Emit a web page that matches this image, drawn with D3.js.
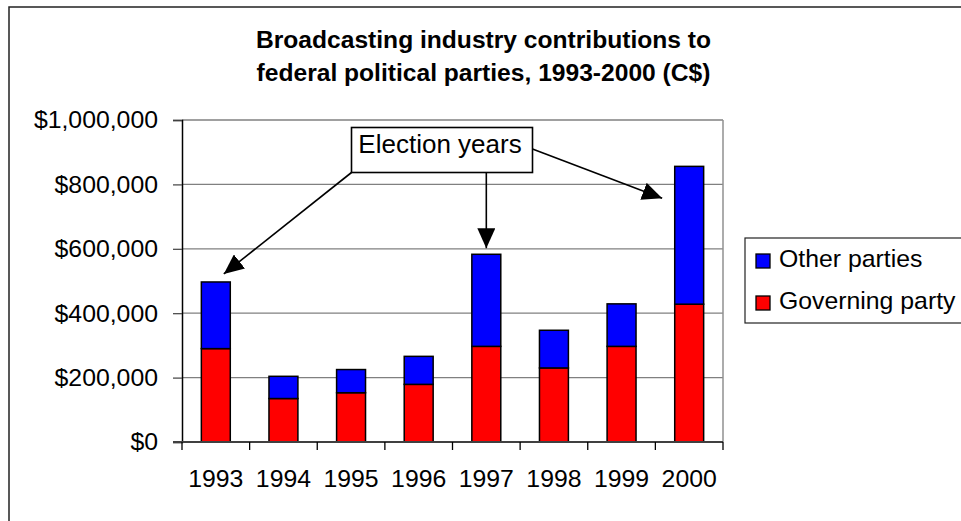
<!DOCTYPE html>
<html>
<head>
<meta charset="utf-8">
<script src="https://cdn.jsdelivr.net/npm/d3@7"></script>
<style>
  html, body { margin: 0; padding: 0; background: #fff; }
  svg { display: block; font-family: "Liberation Sans", Arial, sans-serif; }
</style>
</head>
<body>
<svg id="chart" width="961" height="521"></svg>
<script>
// ---- data ----
const years = ["1993", "1994", "1995", "1996", "1997", "1998", "1999", "2000"];
const governingParty = [290000, 135000, 153000, 179000, 297000, 230000, 297000, 428000];
const otherParties = [207000, 69000, 72000, 87000, 286000, 117000, 132000, 428000];
const yTicks = [0, 200000, 400000, 600000, 800000, 1000000];
const seriesNames = ["Governing party", "Other parties"];
const seriesColors = ["#ff0000", "#0000ff"];
const titleLines = ["Broadcasting industry contributions to", "federal political parties, 1993-2000 (C$)"];
const annotationText = "Election years";

// ---- layout ----
const svg = d3.select("#chart");
const plot = { left: 182, right: 723, top: 120, bottom: 442 };
const labelSize = 24.8;

// outer frame
svg.append("rect")
  .attr("x", 9).attr("y", 7).attr("width", 980).attr("height", 540)
  .attr("fill", "none").attr("stroke", "#222").attr("stroke-width", 1.5);

// title
svg.append("g").selectAll("text").data(titleLines).join("text")
  .attr("x", 483.5).attr("y", (d, i) => 48 + i * 33)
  .attr("text-anchor", "middle")
  .attr("font-weight", "bold").attr("font-size", 24.6)
  .attr("fill", "#000")
  .text(d => d);

const x = d3.scaleBand().domain(years)
  .range([plot.left, plot.right]).paddingInner(0.572).paddingOuter(0.286);
const y = d3.scaleLinear().domain([0, 1000000]).range([plot.bottom, plot.top]);
const step = x.step();

// gridlines
svg.append("g").selectAll("line").data(yTicks.filter(d => d > 0)).join("line")
  .attr("x1", plot.left).attr("x2", plot.right)
  .attr("y1", d => y(d)).attr("y2", d => y(d))
  .attr("stroke", "#808080").attr("stroke-width", 1.3);

// right border of plot
svg.append("line")
  .attr("x1", plot.right).attr("x2", plot.right)
  .attr("y1", plot.top).attr("y2", plot.bottom)
  .attr("stroke", "#909090").attr("stroke-width", 1.5);

// y axis
const fmt = d => "$" + d3.format(",")(d);
const yAxis = svg.append("g")
  .attr("transform", `translate(${plot.left},0)`)
  .call(d3.axisLeft(y).tickValues(yTicks).tickFormat(fmt).tickSize(9).tickPadding(15));
yAxis.select(".domain").attr("stroke", "#000").attr("stroke-width", 1.5);
yAxis.selectAll(".tick line").attr("stroke", "#404040").attr("stroke-width", 1.2);
yAxis.selectAll("text")
  .attr("font-size", labelSize).attr("fill", "#000")
  .attr("font-family", "Liberation Sans, Arial, sans-serif");

// stacked bars
const rows = years.map((yr, i) => ({ year: yr, "Governing party": governingParty[i], "Other parties": otherParties[i] }));
const stacked = d3.stack().keys(seriesNames)(rows);
svg.append("g").selectAll("g").data(stacked).join("g")
  .attr("fill", (d, i) => seriesColors[i])
  .selectAll("rect").data(d => d).join("rect")
  .attr("x", d => x(d.data.year))
  .attr("width", x.bandwidth())
  .attr("y", d => y(d[1]))
  .attr("height", d => y(d[0]) - y(d[1]))
  .attr("stroke", "#000").attr("stroke-width", 1.5);

// x axis
const xAxisG = svg.append("g").attr("transform", `translate(0,${plot.bottom})`);
xAxisG.append("line")
  .attr("x1", plot.left - 9).attr("x2", plot.right)
  .attr("stroke", "#404040").attr("stroke-width", 1.8);
const boundaries = d3.range(years.length + 1).map(i => x(years[0]) + x.bandwidth() / 2 - step / 2 + i * step);
xAxisG.selectAll("line.tk").data(boundaries).join("line").attr("class", "tk")
  .attr("x1", d => d).attr("x2", d => d).attr("y1", 0).attr("y2", 8)
  .attr("stroke", "#000").attr("stroke-width", 1.3);
const xAxis = svg.append("g")
  .attr("transform", `translate(0,${plot.bottom})`)
  .call(d3.axisBottom(x).tickSize(0).tickPadding(27));
xAxis.select(".domain").remove();
xAxis.selectAll("text")
  .attr("font-size", labelSize).attr("fill", "#000")
  .attr("font-family", "Liberation Sans, Arial, sans-serif");

// legend
const lg = svg.append("g");
lg.append("rect").attr("x", 745).attr("y", 238).attr("width", 240).attr("height", 85)
  .attr("fill", "#fff").attr("stroke", "#222").attr("stroke-width", 1.2);
const legendItems = [
  { name: seriesNames[1], color: seriesColors[1] },
  { name: seriesNames[0], color: seriesColors[0] }
];
const li = lg.selectAll("g.item").data(legendItems).join("g").attr("class", "item")
  .attr("transform", (d, i) => `translate(756,${254 + i * 42})`);
li.append("rect").attr("width", 14).attr("height", 14)
  .attr("fill", d => d.color).attr("stroke", "#000").attr("stroke-width", 1.3);
li.append("text").attr("x", 23).attr("y", 13)
  .attr("font-size", labelSize).attr("fill", "#000").text(d => d.name);

// annotation
const defs = svg.append("defs");
defs.append("marker").attr("id", "arrow")
  .attr("markerUnits", "userSpaceOnUse")
  .attr("viewBox", "0 0 20 18").attr("markerWidth", 20).attr("markerHeight", 18)
  .attr("refX", 20).attr("refY", 9).attr("orient", "auto")
  .append("path").attr("d", "M0,0 L20,9 L0,18 Z").attr("fill", "#000");

const box = { x: 351.5, y: 127.5, w: 181, h: 45 };
const stackTop = yr => y(governingParty[years.indexOf(yr)] + otherParties[years.indexOf(yr)]);
const cx = yr => x(yr) + x.bandwidth() / 2;
const arrows = [
  { x1: box.x, y1: box.y + box.h, x2: cx("1993") + 8, y2: stackTop("1993") - 8 },
  { x1: cx("1997"), y1: box.y + box.h, x2: cx("1997"), y2: stackTop("1997") - 6 },
  { x1: box.x + box.w, y1: 149, x2: cx("2000") - 27, y2: stackTop("2000") + 32 }
];
svg.append("g").selectAll("line").data(arrows).join("line")
  .attr("x1", d => d.x1).attr("y1", d => d.y1).attr("x2", d => d.x2).attr("y2", d => d.y2)
  .attr("stroke", "#000").attr("stroke-width", 1.6).attr("marker-end", "url(#arrow)");
svg.append("rect").attr("x", box.x).attr("y", box.y).attr("width", box.w).attr("height", box.h)
  .attr("fill", "#fff").attr("stroke", "#000").attr("stroke-width", 1.6);
svg.append("text").attr("x", box.x + box.w / 2 - 2).attr("y", 153)
  .attr("text-anchor", "middle").attr("font-size", 26).attr("fill", "#000")
  .text(annotationText);
</script>
</body>
</html>
